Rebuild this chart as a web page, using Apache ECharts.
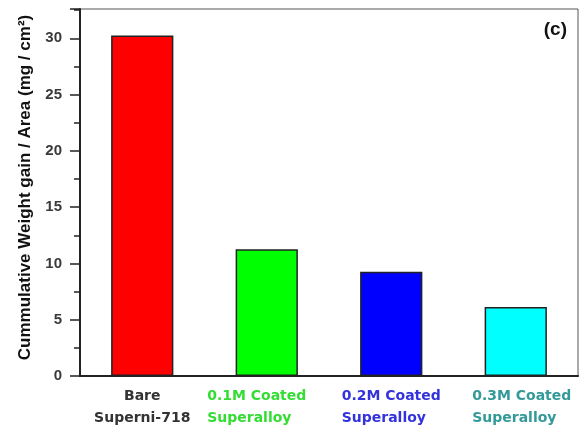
<!DOCTYPE html>
<html><head><meta charset="utf-8">
<script src="https://cdn.jsdelivr.net/npm/echarts@6/dist/echarts.min.js"></script>
<style>html,body{margin:0;padding:0;background:#fff}#c{width:579px;height:427px}</style>
</head><body><div id="c"></div>
<script>
const categories = ['Bare\nSuperni-718', '0.1M Coated\nSuperalloy', '0.2M Coated\nSuperalloy', '0.3M Coated\nSuperalloy'];
const values = [30.25, 11.25, 9.27, 6.13];
const barColors = ['#ff0000', '#00ff00', '#0000ff', '#00ffff'];
const labelColors = ['#333333', '#33dd33', '#3333dd', '#339999'];
const yTicks = [0, 5, 10, 15, 20, 25, 30];

const labelFont = '"DejaVu Sans", "Liberation Sans", Arial';
const labelPads = [[0, 0, 0, 0], [0, 20, 0, 0], [0, 0, 0, 0], [0, 0, 0, 12]];
const chart = echarts.init(document.getElementById('c'));
chart.setOption({
  animation: false,
  backgroundColor: '#fff',
  grid: {left: 80, right: 1, top: 9, bottom: 51, show: true, borderColor: '#555', borderWidth: 1, containLabel: false, outerBoundsMode: 'none'},
  graphic: [{type: 'text', right: 12, top: 20, style: {text: '(c)', font: 'bold 19px "Liberation Sans", Arial', fill: '#111'}}],
  xAxis: {
    type: 'category',
    data: categories.map((c, i) => ({value: c, textStyle: {padding: labelPads[i]}})),
    axisLine: {lineStyle: {color: '#222', width: 2}},
    axisTick: {show: false},
    axisLabel: {
      interval: 0, margin: 9, lineHeight: 22,
      fontFamily: labelFont, fontWeight: 'bold', fontSize: 14,
      formatter: (v, i) => '{c' + i + '|' + v.split('\n').join('}\n{c' + i + '|') + '}',
      rich: Object.fromEntries(labelColors.map((c, i) => ['c' + i, {color: c, fontWeight: 'bold', fontSize: 14, lineHeight: 22, fontFamily: labelFont, align: i === 0 ? 'center' : 'left'}]))
    }
  },
  yAxis: {
    type: 'value', min: 0, max: 32.6, interval: 5,
    name: 'Cummulative Weight gain / Area (mg / cm²)',
    nameLocation: 'middle', nameGap: 46,
    nameTextStyle: {fontFamily: '"Liberation Sans Narrow", "Liberation Sans", Arial', fontWeight: 'bold', fontSize: 17, color: '#111', padding: [0, 0, 0, 10]},
    axisLine: {show: true, lineStyle: {color: '#222', width: 2}},
    axisTick: {show: true, length: 10, lineStyle: {color: '#222', width: 1.5}},
    minorTick: {show: true, splitNumber: 2, length: 6, lineStyle: {color: '#222', width: 1.5}},
    splitLine: {show: false},
    axisLabel: {margin: 18, fontFamily: '"Liberation Sans", Arial', fontWeight: 'bold', fontSize: 15, color: '#3a3a3a',
      formatter: v => yTicks.includes(v) ? String(v) : ''}
  },
  series: [{
    type: 'bar', barWidth: '50%',
    data: values.map((v, i) => ({value: v, itemStyle: {color: barColors[i]}})),
    itemStyle: {borderColor: '#222', borderWidth: 1.5}
  }]
});
</script></body></html>
